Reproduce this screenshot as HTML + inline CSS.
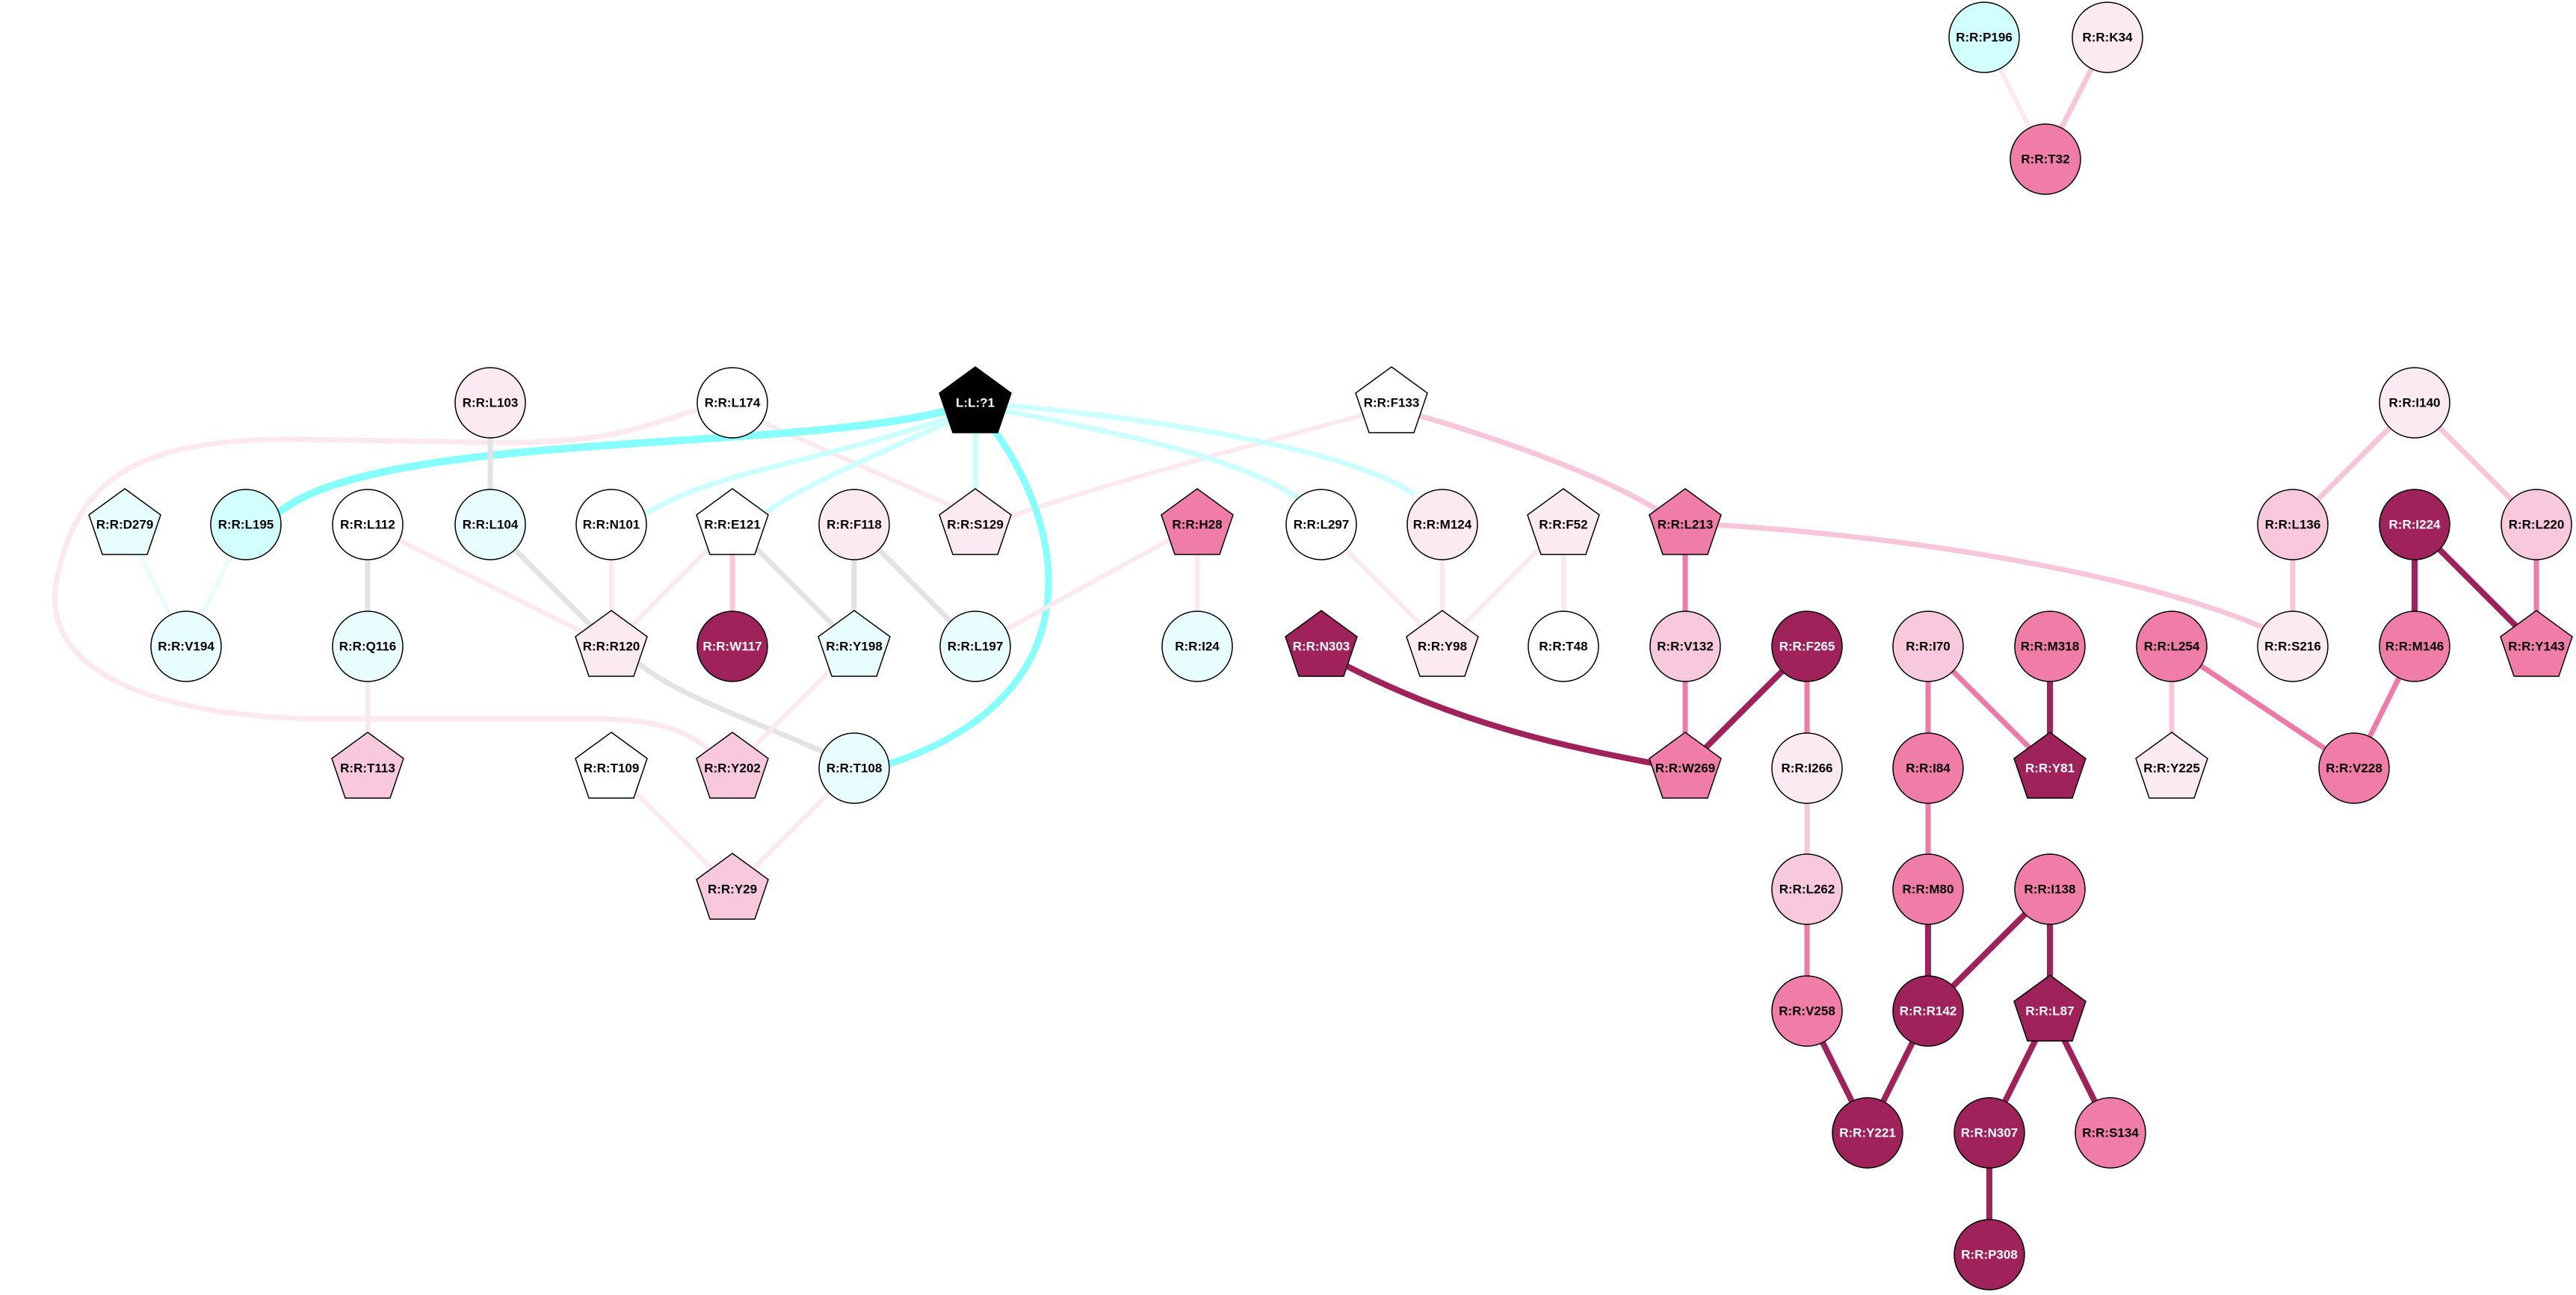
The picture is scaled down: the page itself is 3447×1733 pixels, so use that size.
<!DOCTYPE html>
<html><head><meta charset="utf-8"><style>
html,body{margin:0;padding:0;background:#fff;}
svg{display:block;}
text{font-family:"Liberation Sans",Arial,sans-serif;font-weight:bold;font-size:17px;text-anchor:middle;dominant-baseline:central;fill:#000;}
text.w{fill:#fff;}
.n{stroke:#000;stroke-width:1.5;}
path,line{fill:none;stroke-linecap:round;}
</style></head><body>
<svg width="3447" height="1733" viewBox="0 0 3447 1733" xmlns="http://www.w3.org/2000/svg">
<g>
<line x1="2655" y1="50" x2="2737" y2="213" stroke="#fce9f0" stroke-width="6"/>
<line x1="2820" y1="50" x2="2737" y2="213" stroke="#f8c6da" stroke-width="7"/>

<path d="M930,549 C850,575 800,595 650,592 L400,588 C170,585 100,650 75,780 C55,900 210,958 420,962 L800,962 C880,962 920,980 945,1000" stroke="#fce9f0" stroke-width="7"/>
<line x1="1020" y1="565" x2="1280" y2="680" stroke="#fce9f0" stroke-width="6"/>
<path d="M1340,695 C1500,640 1700,590 1825,555" stroke="#fce9f0" stroke-width="6"/>

<path d="M1295,550 C1100,620 950,630 860,690" stroke="#ccffff" stroke-width="7"/>
<path d="M1300,550 C1150,620 1070,650 1020,690" stroke="#ccffff" stroke-width="7"/>
<line x1="1305" y1="580" x2="1305" y2="660" stroke="#ccffff" stroke-width="7"/>
<path d="M1320,545 C1500,580 1650,610 1735,665" stroke="#ccffff" stroke-width="7"/>
<path d="M1320,540 C1550,560 1800,600 1890,660" stroke="#ccffff" stroke-width="7"/>
<path d="M1300,540 C1100,610 500,570 368,690" stroke="#88ffff" stroke-width="10"/>
<path d="M1318,560 C1430,700 1470,930 1190,1022" stroke="#88ffff" stroke-width="9"/>

<line x1="656" y1="539" x2="656" y2="702" stroke="#e3e3e3" stroke-width="7"/>
<line x1="167" y1="702" x2="249" y2="865" stroke="#e8fdfd" stroke-width="6"/>
<line x1="329" y1="702" x2="249" y2="865" stroke="#e8fdfd" stroke-width="6"/>
<line x1="492" y1="702" x2="492" y2="865" stroke="#e3e3e3" stroke-width="7"/>
<line x1="492" y1="702" x2="818" y2="865" stroke="#fce9f0" stroke-width="6"/>
<line x1="656" y1="702" x2="818" y2="865" stroke="#e3e3e3" stroke-width="7"/>
<line x1="818" y1="702" x2="818" y2="865" stroke="#fce9f0" stroke-width="6"/>
<line x1="980" y1="702" x2="818" y2="865" stroke="#fce9f0" stroke-width="6"/>
<line x1="980" y1="702" x2="980" y2="865" stroke="#f8c6da" stroke-width="7"/>
<line x1="980" y1="702" x2="1143" y2="865" stroke="#e3e3e3" stroke-width="7"/>
<line x1="1143" y1="702" x2="1143" y2="865" stroke="#e3e3e3" stroke-width="7"/>
<line x1="1143" y1="702" x2="1305" y2="865" stroke="#e3e3e3" stroke-width="7"/>
<path d="M845,880 C900,930 1000,960 1110,1010" stroke="#e3e3e3" stroke-width="7"/>
<line x1="492" y1="865" x2="492" y2="1028" stroke="#fce9f0" stroke-width="6"/>
<line x1="1143" y1="865" x2="980" y2="1028" stroke="#fce9f0" stroke-width="6"/>
<line x1="818" y1="1028" x2="980" y2="1190" stroke="#fce9f0" stroke-width="6"/>
<line x1="1143" y1="1028" x2="980" y2="1190" stroke="#fce9f0" stroke-width="6"/>
<line x1="1602" y1="702" x2="1305" y2="865" stroke="#fce9f0" stroke-width="6"/>
<line x1="1602" y1="702" x2="1602" y2="865" stroke="#fce9f0" stroke-width="6"/>

<line x1="1768" y1="702" x2="1930" y2="865" stroke="#fce9f0" stroke-width="6"/>
<line x1="1930" y1="702" x2="1930" y2="865" stroke="#fce9f0" stroke-width="6"/>
<line x1="2092" y1="702" x2="1930" y2="865" stroke="#fce9f0" stroke-width="6"/>
<line x1="2092" y1="702" x2="2092" y2="865" stroke="#fce9f0" stroke-width="6"/>
<path d="M1895,555 C2050,600 2170,650 2230,690" stroke="#f8c6da" stroke-width="7"/>
<path d="M2290,702 C2600,720 2900,780 3040,845" stroke="#f8c6da" stroke-width="7"/>
<line x1="2255" y1="702" x2="2255" y2="1028" stroke="#ee7aa8" stroke-width="7"/>
<path d="M1790,885 C1950,970 2100,1000 2215,1022" stroke="#a0225a" stroke-width="8"/>
<line x1="2418" y1="865" x2="2255" y2="1028" stroke="#a0225a" stroke-width="8"/>
<line x1="2418" y1="865" x2="2418" y2="1028" stroke="#ee7aa8" stroke-width="7"/>
<line x1="2418" y1="1028" x2="2418" y2="1190" stroke="#f8c6da" stroke-width="7"/>
<line x1="2418" y1="1190" x2="2418" y2="1353" stroke="#ee7aa8" stroke-width="7"/>
<line x1="2418" y1="1353" x2="2499" y2="1516" stroke="#a0225a" stroke-width="8"/>
<line x1="2580" y1="865" x2="2580" y2="1190" stroke="#ee7aa8" stroke-width="7"/>
<line x1="2580" y1="865" x2="2743" y2="1028" stroke="#ee7aa8" stroke-width="7"/>
<line x1="2743" y1="865" x2="2743" y2="1028" stroke="#a0225a" stroke-width="8"/>
<line x1="2580" y1="1190" x2="2580" y2="1353" stroke="#a0225a" stroke-width="8"/>
<line x1="2743" y1="1190" x2="2580" y2="1353" stroke="#a0225a" stroke-width="8"/>
<line x1="2743" y1="1190" x2="2743" y2="1353" stroke="#a0225a" stroke-width="8"/>
<line x1="2580" y1="1353" x2="2499" y2="1516" stroke="#a0225a" stroke-width="8"/>
<line x1="2743" y1="1353" x2="2662" y2="1516" stroke="#a0225a" stroke-width="8"/>
<line x1="2743" y1="1353" x2="2824" y2="1516" stroke="#a0225a" stroke-width="8"/>
<line x1="2662" y1="1516" x2="2662" y2="1679" stroke="#a0225a" stroke-width="8"/>
<line x1="2906" y1="865" x2="2906" y2="1028" stroke="#f8c6da" stroke-width="7"/>
<line x1="2906" y1="865" x2="3150" y2="1028" stroke="#ee7aa8" stroke-width="7"/>
<line x1="3231" y1="539" x2="3068" y2="702" stroke="#f8c6da" stroke-width="7"/>
<line x1="3231" y1="539" x2="3394" y2="702" stroke="#f8c6da" stroke-width="7"/>
<line x1="3068" y1="702" x2="3068" y2="865" stroke="#f8c6da" stroke-width="7"/>
<line x1="3231" y1="702" x2="3231" y2="865" stroke="#a0225a" stroke-width="8"/>
<line x1="3231" y1="702" x2="3394" y2="865" stroke="#a0225a" stroke-width="8"/>
<line x1="3394" y1="702" x2="3394" y2="865" stroke="#ee7aa8" stroke-width="7"/>
<line x1="3231" y1="865" x2="3150" y2="1028" stroke="#ee7aa8" stroke-width="7"/>
</g>

<g class="n">
<circle cx="2655" cy="50" r="47" fill="#d2fefe"/>
<circle cx="2820" cy="50" r="47" fill="#fbeaf2"/>
<circle cx="2737" cy="213" r="47" fill="#f07ca8"/>
<circle cx="656" cy="539" r="47" fill="#fbeaf2"/>
<circle cx="980" cy="539" r="47" fill="#fff"/>
<circle cx="3231" cy="539" r="47" fill="#fbeaf2"/>
<circle cx="329" cy="702" r="47" fill="#d2fefe"/>
<circle cx="492" cy="702" r="47" fill="#fff"/>
<circle cx="656" cy="702" r="47" fill="#e8fdfd"/>
<circle cx="818" cy="702" r="47" fill="#fff"/>
<circle cx="1143" cy="702" r="47" fill="#fbeaf2"/>
<circle cx="1768" cy="702" r="47" fill="#fff"/>
<circle cx="1930" cy="702" r="47" fill="#fbeaf2"/>
<circle cx="3068" cy="702" r="47" fill="#f8c8dc"/>
<circle cx="3231" cy="702" r="47" fill="#a0225a"/>
<circle cx="3394" cy="702" r="47" fill="#f8c8dc"/>
<circle cx="249" cy="865" r="47" fill="#e8fdfd"/>
<circle cx="492" cy="865" r="47" fill="#e8fdfd"/>
<circle cx="980" cy="865" r="47" fill="#a0225a"/>
<circle cx="1305" cy="865" r="47" fill="#e8fdfd"/>
<circle cx="1602" cy="865" r="47" fill="#e8fdfd"/>
<circle cx="2092" cy="865" r="47" fill="#fff"/>
<circle cx="2255" cy="865" r="47" fill="#f8c8dc"/>
<circle cx="2418" cy="865" r="47" fill="#a0225a"/>
<circle cx="2580" cy="865" r="47" fill="#f8c8dc"/>
<circle cx="2743" cy="865" r="47" fill="#f07ca8"/>
<circle cx="2906" cy="865" r="47" fill="#f07ca8"/>
<circle cx="3068" cy="865" r="47" fill="#fbeaf2"/>
<circle cx="3231" cy="865" r="47" fill="#f07ca8"/>
<circle cx="1143" cy="1028" r="47" fill="#e8fdfd"/>
<circle cx="2418" cy="1028" r="47" fill="#fbeaf2"/>
<circle cx="2580" cy="1028" r="47" fill="#f07ca8"/>
<circle cx="3150" cy="1028" r="47" fill="#f07ca8"/>
<circle cx="2418" cy="1190" r="47" fill="#f8c8dc"/>
<circle cx="2580" cy="1190" r="47" fill="#f07ca8"/>
<circle cx="2743" cy="1190" r="47" fill="#f07ca8"/>
<circle cx="2418" cy="1353" r="47" fill="#f07ca8"/>
<circle cx="2580" cy="1353" r="47" fill="#a0225a"/>
<circle cx="2499" cy="1516" r="47" fill="#a0225a"/>
<circle cx="2662" cy="1516" r="47" fill="#a0225a"/>
<circle cx="2824" cy="1516" r="47" fill="#f07ca8"/>
<circle cx="2662" cy="1679" r="47" fill="#a0225a"/>
</g>

<g class="n">
<polygon transform="translate(1305,539)" points="0,-48 48,-13 30,40 -30,40 -48,-13" fill="#000"/>
<polygon transform="translate(1862,539)" points="0,-48 48,-13 30,40 -30,40 -48,-13" fill="#fff"/>
<polygon transform="translate(167,702)" points="0,-48 48,-13 30,40 -30,40 -48,-13" fill="#e8fdfd"/>
<polygon transform="translate(980,702)" points="0,-48 48,-13 30,40 -30,40 -48,-13" fill="#fff"/>
<polygon transform="translate(1305,702)" points="0,-48 48,-13 30,40 -30,40 -48,-13" fill="#fbeaf2"/>
<polygon transform="translate(1602,702)" points="0,-48 48,-13 30,40 -30,40 -48,-13" fill="#f07ca8"/>
<polygon transform="translate(2092,702)" points="0,-48 48,-13 30,40 -30,40 -48,-13" fill="#fbeaf2"/>
<polygon transform="translate(2255,702)" points="0,-48 48,-13 30,40 -30,40 -48,-13" fill="#f07ca8"/>
<polygon transform="translate(818,865)" points="0,-48 48,-13 30,40 -30,40 -48,-13" fill="#fbeaf2"/>
<polygon transform="translate(1143,865)" points="0,-48 48,-13 30,40 -30,40 -48,-13" fill="#e8fdfd"/>
<polygon transform="translate(1768,865)" points="0,-48 48,-13 30,40 -30,40 -48,-13" fill="#a0225a"/>
<polygon transform="translate(1930,865)" points="0,-48 48,-13 30,40 -30,40 -48,-13" fill="#fbeaf2"/>
<polygon transform="translate(3394,865)" points="0,-48 48,-13 30,40 -30,40 -48,-13" fill="#f07ca8"/>
<polygon transform="translate(492,1028)" points="0,-48 48,-13 30,40 -30,40 -48,-13" fill="#f8c8dc"/>
<polygon transform="translate(818,1028)" points="0,-48 48,-13 30,40 -30,40 -48,-13" fill="#fff"/>
<polygon transform="translate(980,1028)" points="0,-48 48,-13 30,40 -30,40 -48,-13" fill="#f8c8dc"/>
<polygon transform="translate(2255,1028)" points="0,-48 48,-13 30,40 -30,40 -48,-13" fill="#f07ca8"/>
<polygon transform="translate(2743,1028)" points="0,-48 48,-13 30,40 -30,40 -48,-13" fill="#a0225a"/>
<polygon transform="translate(2906,1028)" points="0,-48 48,-13 30,40 -30,40 -48,-13" fill="#fbeaf2"/>
<polygon transform="translate(980,1190)" points="0,-48 48,-13 30,40 -30,40 -48,-13" fill="#f8c8dc"/>
<polygon transform="translate(2743,1353)" points="0,-48 48,-13 30,40 -30,40 -48,-13" fill="#a0225a"/>
</g>

<g>
<text x="2655" y="50">R:R:P196</text>
<text x="2820" y="50">R:R:K34</text>
<text x="2737" y="213">R:R:T32</text>
<text x="656" y="539">R:R:L103</text>
<text x="980" y="539">R:R:L174</text>
<text class="w" x="1305" y="539">L:L:?1</text>
<text x="1862" y="539">R:R:F133</text>
<text x="3231" y="539">R:R:I140</text>
<text x="167" y="702">R:R:D279</text>
<text x="329" y="702">R:R:L195</text>
<text x="492" y="702">R:R:L112</text>
<text x="656" y="702">R:R:L104</text>
<text x="818" y="702">R:R:N101</text>
<text x="980" y="702">R:R:E121</text>
<text x="1143" y="702">R:R:F118</text>
<text x="1305" y="702">R:R:S129</text>
<text x="1602" y="702">R:R:H28</text>
<text x="1768" y="702">R:R:L297</text>
<text x="1930" y="702">R:R:M124</text>
<text x="2092" y="702">R:R:F52</text>
<text x="2255" y="702">R:R:L213</text>
<text x="3068" y="702">R:R:L136</text>
<text class="w" x="3231" y="702">R:R:I224</text>
<text x="3394" y="702">R:R:L220</text>
<text x="249" y="865">R:R:V194</text>
<text x="492" y="865">R:R:Q116</text>
<text x="818" y="865">R:R:R120</text>
<text class="w" x="980" y="865">R:R:W117</text>
<text x="1143" y="865">R:R:Y198</text>
<text x="1305" y="865">R:R:L197</text>
<text x="1602" y="865">R:R:I24</text>
<text class="w" x="1768" y="865">R:R:N303</text>
<text x="1930" y="865">R:R:Y98</text>
<text x="2092" y="865">R:R:T48</text>
<text x="2255" y="865">R:R:V132</text>
<text class="w" x="2418" y="865">R:R:F265</text>
<text x="2580" y="865">R:R:I70</text>
<text x="2743" y="865">R:R:M318</text>
<text x="2906" y="865">R:R:L254</text>
<text x="3068" y="865">R:R:S216</text>
<text x="3231" y="865">R:R:M146</text>
<text x="3394" y="865">R:R:Y143</text>
<text x="492" y="1028">R:R:T113</text>
<text x="818" y="1028">R:R:T109</text>
<text x="980" y="1028">R:R:Y202</text>
<text x="1143" y="1028">R:R:T108</text>
<text x="2255" y="1028">R:R:W269</text>
<text x="2418" y="1028">R:R:I266</text>
<text x="2580" y="1028">R:R:I84</text>
<text class="w" x="2743" y="1028">R:R:Y81</text>
<text x="2906" y="1028">R:R:Y225</text>
<text x="3150" y="1028">R:R:V228</text>
<text x="980" y="1190">R:R:Y29</text>
<text x="2418" y="1190">R:R:L262</text>
<text x="2580" y="1190">R:R:M80</text>
<text x="2743" y="1190">R:R:I138</text>
<text x="2418" y="1353">R:R:V258</text>
<text class="w" x="2580" y="1353">R:R:R142</text>
<text class="w" x="2743" y="1353">R:R:L87</text>
<text class="w" x="2499" y="1516">R:R:Y221</text>
<text class="w" x="2662" y="1516">R:R:N307</text>
<text x="2824" y="1516">R:R:S134</text>
<text class="w" x="2662" y="1679">R:R:P308</text>
</g>
</svg>
</body></html>
